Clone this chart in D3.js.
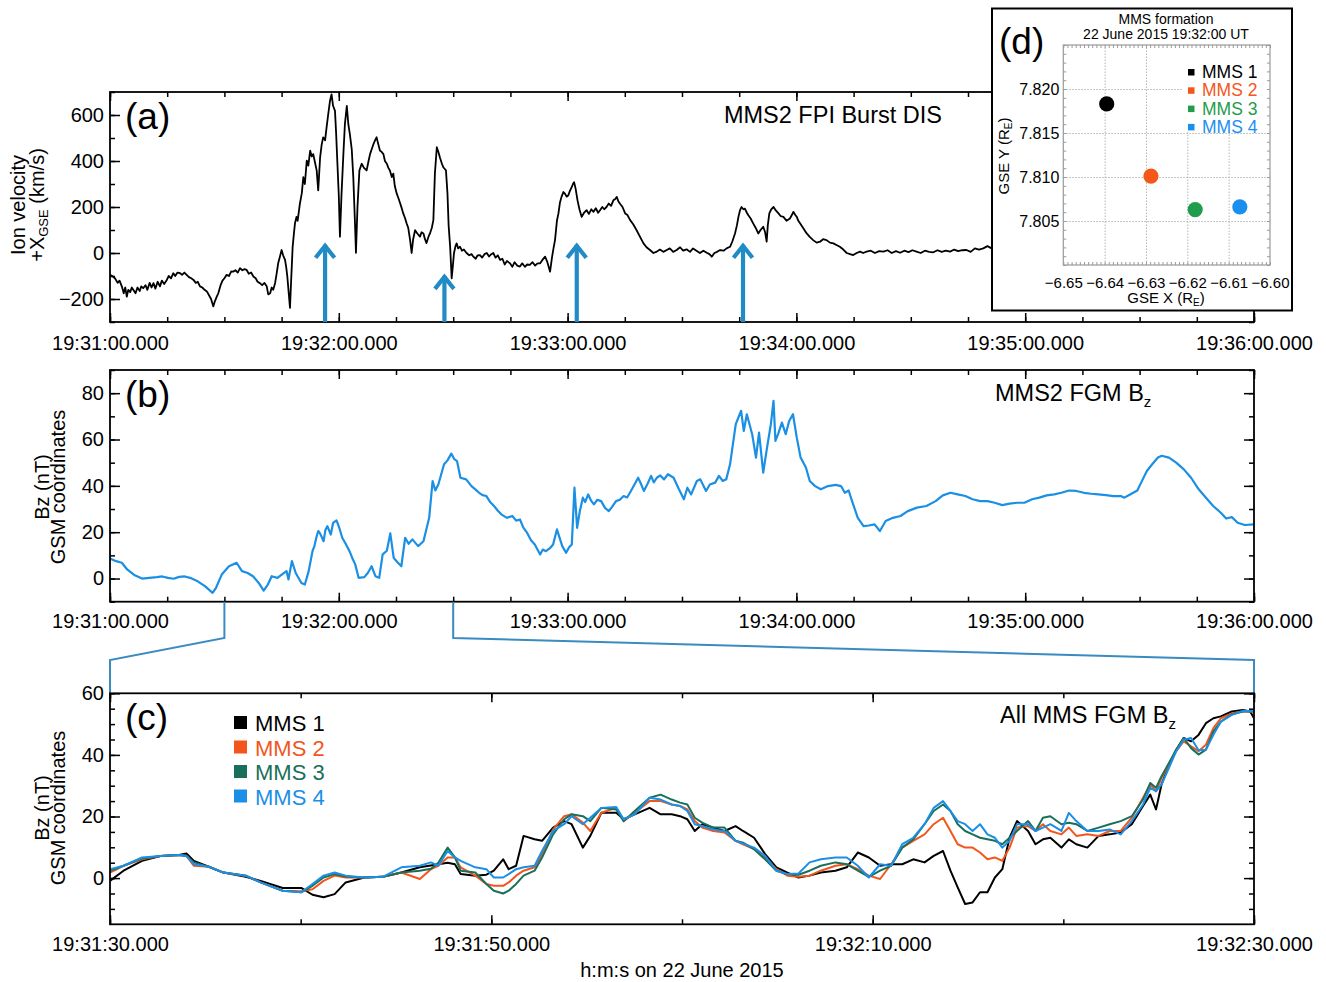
<!DOCTYPE html>
<html>
<head>
<meta charset="utf-8">
<script src="https://cdn.jsdelivr.net/npm/d3@7"></script>
<style>
  body { margin: 0; background: #fff; }
  svg { display: block; font-family: "Liberation Sans", Arial, Helvetica, sans-serif; }
</style>
</head>
<body>
<svg id="fig" width="1326" height="982"></svg>
<script>
// ---------------- data ----------------
// times are seconds after 19:31:00 UT (panels a, b) or after 19:31:30 UT (panel c)
var ionVel = [[0,-95],[0.6,-100],[1.3,-110],[2.0,-130],[2.5,-120],[3.1,-145],[3.6,-175],[4.0,-150],[4.4,-190],[4.8,-160],
  [5.3,-170],[5.7,-150],[6.1,-160],[6.7,-175],[7.2,-150],[7.8,-165],[8.2,-145],[8.7,-153],[9.3,-140],[9.8,-160],
  [10.4,-130],[10.9,-150],[11.4,-131],[11.9,-155],[12.5,-125],[13.1,-145],[13.6,-120],[14.2,-135],[14.9,-117],[15.4,-100],
  [16.0,-110],[16.6,-88],[17.1,-100],[17.7,-85],[18.4,-88],[18.9,-95],[19.5,-85],[20.1,-95],[20.7,-105],[21.3,-110],
  [21.9,-117],[22.5,-130],[23.0,-125],[23.6,-145],[24.2,-150],[24.8,-160],[25.4,-167],[26.0,-185],[26.5,-200],[27.1,-232],
  [27.5,-210],[28.0,-190],[28.4,-175],[29.0,-140],[29.5,-120],[30.0,-110],[30.6,-95],[31.2,-100],[31.8,-80],[32.3,-81],
  [32.9,-75],[33.5,-85],[34.1,-66],[34.7,-75],[35.3,-70],[35.8,-73],[36.4,-90],[37.0,-85],[37.6,-102],[38.2,-110],
  [38.7,-125],[39.3,-131],[39.9,-140],[40.5,-130],[41.1,-145],[41.5,-180],[42.0,-175],[42.4,-150],[42.8,-160],[43.3,-130],
  [43.7,-90],[44.1,-45],[44.5,-20],[45.0,13],[45.4,-10],[45.9,-30],[46.2,-60],[46.5,-102],[46.9,-180],[47.2,-239],
  [47.5,-120],[47.9,27],[48.2,80],[48.5,128],[48.9,157],[49.2,140],[49.8,215],[50.3,260],[50.7,330],[51.1,300],
  [51.6,402],[52.0,380],[52.5,445],[52.9,420],[53.3,430],[53.8,390],[54.2,359],[54.6,272],[55.1,416],[55.5,470],
  [55.9,503],[56.4,490],[56.8,546],[57.2,600],[57.7,662],[58.1,690],[58.5,640],[59.0,618],[59.3,520],[59.6,402],
  [60.0,250],[60.3,71],[60.7,250],[61.2,430],[61.6,560],[62.1,640],[62.5,560],[62.9,517],[63.4,450],[63.8,330],
  [64.2,150],[64.5,1],[64.9,200],[65.4,359],[66.0,388],[66.6,370],[67.3,359],[67.8,400],[68.2,430],[68.6,450],
  [69.1,474],[69.5,490],[69.9,503],[70.4,470],[70.8,445],[71.2,440],[71.7,430],[72.1,400],[72.6,388],[73.0,370],
  [73.4,359],[73.9,330],[74.3,345],[74.7,290],[75.2,258],[75.6,240],[76.1,215],[76.5,195],[76.9,172],[77.4,150],
  [77.8,128],[78.2,110],[78.7,56],[79.1,0],[79.5,60],[80.0,99],[80.6,85],[81.3,71],[81.7,90],[82.2,85],
  [82.6,60],[83.0,43],[83.5,70],[83.9,85],[84.4,110],[84.8,143],[85.2,345],[85.7,460],[86.1,440],[86.5,416],
  [87.0,390],[87.4,373],[87.8,365],[88.1,359],[88.5,258],[88.8,120],[89.2,27],[89.6,-110],[90.0,-40],[90.2,-1],
  [90.6,30],[90.9,42],[91.3,20],[91.8,27],[92.3,10],[92.8,15],[93.5,0],[94.2,-10],[94.8,-5],[95.3,-16],
  [95.9,-25],[96.4,-10],[97.0,-9],[97.6,-20],[98.2,-5],[98.8,0],[99.4,-15],[100.0,-5],[100.5,0],[101.1,-20],
  [101.7,-10],[102.3,-30],[102.9,-25],[103.5,-50],[104.1,-35],[104.9,-45],[105.5,-60],[106.1,-40],[106.8,-55],[107.5,-59],
  [108.1,-45],[108.8,-60],[109.4,-50],[110.1,-52],[110.8,-40],[111.5,-55],[112.1,-45],[112.8,-45],[113.4,-30],[114.1,-16],
  [114.7,-40],[115.4,-81],[115.9,-20],[116.3,20],[116.7,56],[117.2,140],[117.6,172],[118.0,220],[118.4,244],[118.9,265],
  [119.3,258],[119.8,245],[120.2,251],[120.6,270],[121.1,287],[121.4,300],[121.7,308],[122.1,280],[122.6,229],[123.1,190],
  [123.7,157],[124.3,175],[125.0,186],[125.6,170],[126.2,190],[126.8,179],[127.4,195],[128.0,175],[128.5,186],[129.1,200],
  [129.6,190],[130.2,200],[130.8,215],[131.4,205],[132.0,229],[132.5,235],[132.9,244],[133.3,225],[133.7,215],[134.4,200],
  [135.1,172],[135.7,165],[136.4,143],[137.2,125],[138.1,99],[139.0,70],[139.9,42],[140.7,25],[141.6,13],[142.5,0],
  [143.4,6],[144.2,15],[145.1,5],[146.0,13],[146.8,20],[147.7,5],[148.6,13],[149.5,25],[150.3,10],[151.2,16],
  [152.1,5],[152.9,20],[153.8,10],[154.7,0],[155.6,10],[156.5,1],[157.2,-5],[157.8,-16],[158.5,0],[159.2,5],
  [160.0,13],[160.9,10],[161.7,20],[162.6,27],[163.2,50],[163.9,85],[164.4,120],[164.8,157],[165.2,185],[165.6,200],
  [166.1,190],[166.5,193],[167.0,175],[167.4,164],[168.0,150],[168.7,128],[169.3,110],[170.0,85],[170.6,100],[171.3,114],
  [171.8,90],[172.2,49],[172.5,120],[172.9,172],[173.4,190],[174.0,200],[174.6,185],[175.3,172],[175.9,160],[176.6,157],
  [177.4,140],[178.3,150],[178.8,165],[179.2,179],[179.7,165],[180.1,157],[180.5,140],[181.0,128],[181.9,105],[182.7,85],
  [183.5,70],[184.4,56],[185.3,45],[186.2,49],[187.0,60],[187.9,56],[188.8,45],[189.7,42],[190.5,35],[191.4,27],
  [192.3,15],[193.2,0],[194.1,-5],[194.9,-9],[195.8,0],[196.7,6],[197.5,0],[198.4,6],[199.5,10],[200.6,0],
  [201.7,8],[202.8,6],[203.9,12],[205.0,0],[206.1,8],[207.2,1],[208.3,10],[209.4,4],[210.4,12],[211.5,6],
  [212.6,0],[213.7,10],[214.8,5],[215.9,3],[217.0,12],[218.1,5],[219.2,10],[220.3,6],[221.4,15],[222.4,8],
  [223.5,12],[224.6,13],[225.7,5],[226.8,20],[227.9,15],[229.0,20],[230.1,30],[231.2,20],[233,25],[240,20],
  [250,15],[260,20],[270,18],[280,22],[290,15],[300,20]];

var bzMms2 = [[0,8.6],[1.6,7.5],[3.1,6.8],[4.5,3.9],[6.5,1.4],[8.4,0],[10.3,0.3],[12.3,0.6],[13.7,0.9],[15.2,0.3],
  [16.7,-0.1],[18.1,0.7],[19.6,0.9],[21.0,0.3],[23.0,-1.2],[24.9,-3.3],[26.9,-6.2],[27.8,-4],[29.3,1.7],[31.2,5.3],
  [33.2,6.8],[34.6,3.2],[36.1,2.4],[37.5,1.0],[39.0,-1.9],[40.3,-5.2],[41.4,-2.6],[42.4,1],[43.9,0.3],[45.3,2],
  [46.3,3.2],[46.8,-0.4],[47.7,7.5],[48.7,2.4],[50.2,-1.9],[51.1,-2.6],[52.1,3.2],[53.1,11.8],[53.6,14],[54.1,17.6],
  [54.6,20.5],[55.0,19.7],[55.5,18],[56.0,16.1],[56.5,21],[57.0,22.6],[57.9,19],[58.5,24],[59.4,25.1],[60.1,22],
  [60.9,17.6],[61.8,15],[62.8,11.8],[63.5,9],[64.3,6.1],[65.2,0.3],[66.7,0.6],[67.6,2.4],[68.6,5.3],[69.6,1],
  [70.6,0.3],[71.5,10.4],[72.6,12],[73.5,19.5],[74.4,8.9],[75.4,7],[76.4,5.3],[77.4,17.6],[78.3,15],[79.3,16.9],
  [80.8,14],[82.2,16.1],[83.7,26.2],[84.6,42.1],[85.3,38],[86.1,40.6],[87.6,49.3],[88.5,51],[89.5,53.9],[90.3,51.5],
  [91.0,50.7],[91.9,43.5],[93.4,42.8],[94.8,39.9],[95.8,38.5],[96.8,37],[97.7,36],[98.7,35.6],[99.7,33],[100.7,31.3],
  [101.6,29.5],[102.6,27.7],[104.1,26.2],[105.5,27],[106.5,25],[107.5,25.5],[108.4,22],[109.4,19.7],[110.4,16.5],[111.4,14.7],
  [112.8,10.4],[113.5,12.5],[114.3,11.8],[115.3,13],[116.2,14.7],[117.2,21.2],[118.6,14],[119.6,11.1],[120.4,13.5],[121.1,14.7],
  [121.8,39.2],[122.5,21.9],[123.2,29],[124.0,34.9],[124.6,33],[125.4,36.3],[126.2,33.5],[126.9,32],[127.8,34],[128.8,33.4],
  [129.8,30.5],[130.8,29.1],[131.7,31],[132.7,33.4],[133.7,34],[134.7,35.6],[135.6,35],[136.6,37.8],[137.5,40.5],[138.5,43.5],
  [139.2,41],[140.0,37.8],[141.0,41],[141.9,44.3],[142.6,41.5],[143.4,43.5],[144.3,44.5],[145.3,42.8],[146.3,45],[147.8,43.5],
  [149.2,38.5],[150.5,34.2],[151.4,39.2],[152.4,36.3],[153.9,42.1],[154.8,42.8],[156.3,37.8],[157.3,40.6],[158.7,41.4],[159.7,44.3],
  [160.7,42.1],[161.6,42.8],[162.6,49.3],[164.1,66.6],[165.5,72.4],[166.2,63.7],[167.0,70.9],[168.4,62.3],[169.4,52.2],[170.2,63],
  [171.3,45.7],[172.3,56.5],[173.3,66.6],[174.0,76.7],[174.5,59.4],[175.2,62.3],[176.2,67.3],[177.2,62.3],[178.1,68],[179.1,70.9],
  [180.1,60.8],[181.1,52.2],[182.5,47.9],[183.5,42.1],[184.9,39.9],[186.4,38.5],[188.3,39.9],[190.3,40.4],[191.7,39.9],[192.7,37],
  [193.7,38],[194.6,33.4],[196.1,26.2],[197.6,22.6],[199.0,22.9],[200.5,23.4],[201.9,20.5],[203.4,24.8],[205.3,26.2],[207.3,27],
  [209.2,29.1],[211.6,30.6],[214.1,31.3],[216.5,33.4],[218.4,35.9],[220.4,37],[222.3,36.3],[224.3,35.6],[226.2,34.2],[228.2,33.4],
  [230.1,33.4],[232.0,32.7],[234.0,31.7],[235.9,32.3],[237.9,32.7],[239.8,32.7],[241.8,34.2],[243.7,34.9],[245.6,35.9],[247.6,36.3],
  [249.5,37],[251.5,38],[253.4,37.8],[255.4,37],[257.3,36.6],[259.2,36.3],[261.2,36],[263.1,35.6],[265.1,35.6],[266.0,34.9],
  [267.5,36.3],[269.4,38],[270.4,41.4],[271.9,46.4],[273.3,49.3],[274.8,52.2],[275.8,53],[277.7,52.2],[279.6,50],[281.6,47.1],
  [283.5,43.5],[285.5,38.5],[287.4,34.9],[289.3,31.3],[291.3,28.4],[292.7,25.9],[294.2,26.5],[295.7,24.1],[297.6,23.1],[300,23.4]];

var bzZoomMms1 = [[0,-0.9],[0.71,2.4],[1.68,5.6],[2.65,7.2],[3.62,7.5],[4.01,8.0],[4.40,5.6],[5.18,3.7],[5.95,1.8],[7.12,0.4],
  [7.90,-0.9],[9.06,-3.2],[10.03,-3.2],[10.62,-5.4],[11.20,-6.2],[11.78,-5.2],[12.36,-1.4],[13.34,0.2],[14.31,0.4],[15.28,1.8],
  [16.25,3.5],[17.22,4.5],[17.71,5.0],[18.09,4.5],[18.39,1.3],[19.16,0.8],[19.74,1.1],[20.13,2.4],[20.62,6.1],[20.91,2.9],
  [21.30,4.0],[21.69,13.7],[22.27,12.6],[22.66,12.1],[23.24,16.4],[23.82,18.5],[24.21,17.5],[24.80,9.9],[25.19,13.7],[25.77,21.2],
  [26.55,21.2],[26.94,19.1],[27.52,20.7],[28.30,22.8],[28.88,20.7],[29.46,20.7],[29.90,20.1],[30.28,19.1],[30.67,15.3],[31.06,17.5],
  [31.64,16.4],[32.23,15.3],[32.81,16.9],[33.20,15.3],[33.78,13.1],[34.36,7.8],[34.95,3.5],[35.53,1.8],[36.11,0.2],[36.69,0.8],
  [37.28,1.8],[38.05,2.4],[38.64,3.5],[39.22,8.3],[39.80,6.7],[40.39,4.0],[40.97,4.5],[41.55,4.5],[42.13,6.1],[42.72,5.1],
  [43.20,7.2],[43.69,8.8],[44.08,2.4],[44.46,-3.0],[44.85,-8.4],[45.24,-7.9],[45.63,-4.6],[46.02,-4.6],[46.41,0.2],[46.80,2.9],
  [47.18,13.1],[47.57,18.5],[48.15,15.3],[48.54,11.0],[48.93,12.6],[49.32,13.1],[49.90,9.9],[50.29,12.6],[50.68,11.0],[51.26,9.9],
  [51.85,13.7],[52.43,14.2],[53.01,14.8],[53.59,17.5],[54.18,23.4],[54.56,27.1],[54.86,22.3],[55.15,30.4],[55.54,36.8],[55.92,41.7],
  [56.31,45.5],[56.70,44.4],[57.09,46.5],[57.48,50.3],[57.87,51.9],[58.26,52.5],[58.84,54.1],[59.42,54.6],[59.80,54.1],[60,51.9]];

var bzZoomMms2 = [[0,1.8],[0.71,4.0],[1.68,6.1],[2.65,7.2],[3.62,7.5],[4.01,7.2],[4.40,4.0],[5.18,3.7],[5.95,1.8],[7.12,0.8],
  [7.90,-1.4],[9.06,-4.1],[10.03,-4.3],[10.62,-3.6],[11.20,-0.9],[11.78,0.8],[12.36,0.2],[13.34,0.2],[14.31,0.4],[15.28,1.8],
  [16.25,-0.3],[16.83,2.9],[17.22,4.0],[17.71,6.7],[18.09,6.7],[18.39,3.5],[19.16,0.8],[19.74,-1.9],[20.13,-2.5],[20.62,-2.5],
  [20.91,-1.4],[21.30,0.8],[21.69,2.4],[22.27,3.5],[22.66,7.8],[23.24,15.8],[23.82,20.1],[24.21,20.7],[24.80,18.0],[25.19,15.3],
  [25.77,21.2],[26.55,22.8],[26.94,18.5],[27.52,21.2],[28.30,25.0],[28.88,25.0],[29.46,23.9],[29.90,23.4],[30.28,22.3],[30.67,18.5],
  [31.06,16.4],[31.64,15.3],[32.23,14.8],[32.81,12.1],[33.20,11.0],[33.78,9.4],[34.36,6.7],[34.95,2.9],[35.53,0.8],[36.11,0.4],
  [36.69,0.8],[37.28,2.4],[38.05,4.0],[38.64,4.5],[39.22,2.9],[39.80,0.8],[40.39,-0.3],[40.97,4.5],[41.55,9.9],[42.13,12.1],
  [42.72,14.2],[43.20,17.5],[43.69,19.6],[44.08,15.3],[44.46,11.0],[44.85,9.9],[45.24,9.9],[45.63,8.3],[46.02,6.1],[46.41,6.7],
  [46.80,5.6],[47.18,9.9],[47.57,16.4],[48.15,16.9],[48.54,15.3],[48.93,17.5],[49.32,15.3],[49.90,14.2],[50.29,16.4],[50.68,13.7],
  [51.26,14.2],[51.85,13.7],[52.43,15.3],[53.01,15.3],[53.59,19.6],[54.18,26.1],[54.56,30.4],[54.86,28.2],[55.15,32.5],[55.54,36.8],
  [55.92,41.2],[56.31,44.4],[56.70,42.8],[57.09,41.2],[57.48,43.3],[57.87,48.7],[58.26,51.9],[58.84,53.5],[59.42,54.1],[60,54.1]];

var bzZoomMms3 = [[0,2.4],[0.71,4.0],[1.68,6.4],[2.65,7.2],[3.62,7.5],[4.01,7.2],[4.40,5.1],[5.18,3.7],[5.95,1.8],[7.12,0.8],
  [7.90,-1.4],[9.06,-4.1],[10.03,-4.6],[10.62,-2.5],[11.20,0.2],[11.78,1.3],[12.36,0.5],[13.34,0.2],[14.31,0.4],[15.28,1.8],
  [16.25,2.4],[16.83,3.0],[17.22,5.0],[17.71,9.9],[18.09,6.7],[18.39,2.4],[19.16,1.8],[19.74,-1.9],[20.13,-4.1],[20.62,-5.0],
  [20.91,-4.1],[21.30,-1.9],[21.69,0.8],[22.27,2.4],[22.66,6.7],[23.24,14.2],[23.82,19.1],[24.21,20.7],[24.80,20.1],[25.19,18.5],
  [25.77,22.8],[26.55,22.3],[26.94,18.5],[27.52,21.8],[28.30,26.1],[28.88,27.1],[29.46,25.5],[29.90,24.5],[30.28,23.9],[30.67,19.6],
  [31.06,18.0],[31.64,16.4],[32.23,16.4],[32.81,12.1],[33.20,11.5],[33.78,9.4],[34.36,6.1],[34.95,2.4],[35.53,1.3],[36.11,1.1],
  [36.69,2.4],[37.28,4.0],[38.05,5.1],[38.64,4.5],[39.22,2.4],[39.80,0.4],[40.39,2.4],[40.97,4.0],[41.55,9.9],[42.13,12.6],
  [42.72,17.5],[43.20,21.8],[43.69,23.9],[44.08,21.8],[44.46,17.5],[44.85,15.3],[45.24,14.2],[45.63,13.1],[46.02,12.6],[46.41,12.1],
  [46.80,11.0],[47.18,13.1],[47.57,15.3],[48.15,18.5],[48.54,15.3],[48.93,19.6],[49.32,20.1],[49.90,17.5],[50.29,18.0],[50.68,17.5],
  [51.26,15.3],[51.85,16.4],[52.43,17.5],[53.01,18.5],[53.59,20.1],[54.18,25.5],[54.56,30.9],[54.86,29.3],[55.15,33.1],[55.54,37.4],
  [55.92,41.7],[56.31,45.5],[56.70,42.2],[57.09,40.1],[57.48,41.7],[57.87,47.6],[58.26,50.8],[58.84,53.2],[59.42,54.1],[60,54.1]];

var bzZoomMms4 = [[0,2.9],[0.71,4.0],[1.68,6.7],[2.65,7.2],[3.62,7.5],[4.01,7.2],[4.40,4.5],[5.18,3.7],[5.95,1.8],[7.12,0.8],
  [7.90,-1.4],[9.06,-4.1],[10.03,-4.6],[10.62,-1.9],[11.20,0.8],[11.78,1.8],[12.36,0.8],[13.34,0.2],[14.31,0.4],[15.28,3.5],
  [16.25,4.0],[16.83,5.1],[17.22,4.0],[17.71,8.8],[18.09,6.7],[18.39,5.6],[19.16,3.5],[19.74,2.9],[20.13,0.2],[20.62,0.2],
  [20.91,1.3],[21.30,2.9],[21.69,3.5],[22.27,4.0],[22.66,8.8],[23.24,15.3],[23.82,17.5],[24.21,20.1],[24.80,17.5],[25.19,19.6],
  [25.77,22.8],[26.55,23.1],[26.94,19.1],[27.52,20.7],[28.30,26.1],[28.88,25.5],[29.46,23.9],[29.90,23.4],[30.28,21.8],[30.67,17.5],
  [31.06,16.9],[31.64,15.8],[32.23,15.3],[32.81,12.1],[33.20,11.2],[33.78,9.9],[34.36,7.2],[34.95,2.4],[35.53,1.3],[36.11,1.5],
  [36.69,5.1],[37.28,6.1],[38.05,6.7],[38.64,6.7],[39.22,4.0],[39.80,0.2],[40.39,4.5],[40.97,4.0],[41.55,11.0],[42.13,13.1],
  [42.72,17.5],[43.20,22.8],[43.69,25.0],[44.08,21.8],[44.46,18.5],[44.85,17.5],[45.24,15.3],[45.63,17.5],[46.02,14.2],[46.41,13.1],
  [46.80,9.9],[47.18,12.1],[47.57,17.5],[48.15,17.5],[48.54,15.3],[48.93,16.4],[49.32,17.5],[49.90,15.3],[50.29,21.2],[50.68,18.5],
  [51.26,15.3],[51.85,15.3],[52.43,15.8],[53.01,14.2],[53.59,18.5],[54.18,23.9],[54.56,29.3],[54.86,28.2],[55.15,30.4],[55.54,35.8],
  [55.92,41.2],[56.31,44.9],[56.70,45.5],[57.09,41.5],[57.48,41.7],[57.87,46.5],[58.26,50.8],[58.84,53.0],[59.42,54.3],[60,54.1]];

var arrowTimes = [56.4, 87.7, 122.4, 166.0];   // s after 19:31:00
var arrowTips = [40, -95, 40, 40];             // km/s

var scNames = ["MMS 1", "MMS 2", "MMS 3", "MMS 4"];
var colorsC = ["#000000", "#f2561d", "#19705a", "#1b8fe6"];
var colorsD = ["#000000", "#f5561a", "#1f9c4c", "#1b8ff0"];
var formX = [-6.6395, -6.6288, -6.6181, -6.6073];   // GSE X (RE)
var formY = [7.8183, 7.8101, 7.8063, 7.8066];        // GSE Y (RE)

var velTicks = [-200, 0, 200, 400, 600];
var bzTicks = [0, 20, 40, 60, 80];
var zoomBzTicks = [0, 20, 40, 60];
var formXTicks = [-6.65, -6.64, -6.63, -6.62, -6.61, -6.60];
var formYTicks = [7.805, 7.810, 7.815, 7.820];

// ---------------- layout ----------------
var svg = d3.select("#fig");
var T0 = Date.UTC(2015, 5, 22, 19, 31, 0);
var TZ = Date.UTC(2015, 5, 22, 19, 31, 30);
var fmt = d3.utcFormat("%H:%M:%S.%L");
var FONT = "\"Liberation Sans\", Arial, Helvetica, sans-serif";
var LEFT = 110, RIGHT = 1254;

function sec(base) { return function (s) { return new Date(base + s * 1000); }; }
var atT0 = sec(T0), atTZ = sec(TZ);

var xa = d3.scaleUtc().domain([atT0(0), atT0(300)]).range([LEFT, RIGHT]);
var ya = d3.scaleLinear().domain([-300, 700]).range([322, 92]);
var yb = d3.scaleLinear().domain([-10, 90]).range([601.7, 370]);
var xc = d3.scaleUtc().domain([atTZ(0), atTZ(60)]).range([LEFT, RIGHT]);
var yc = d3.scaleLinear().domain([-15, 60]).range([924.3, 693.3]);

function styleAxis(g, size) {
  g.select(".domain").remove();
  g.selectAll("line").attr("stroke", "#000").attr("stroke-width", 1.5);
  g.selectAll("text").attr("font-family", FONT).attr("font-size", size).attr("fill", "#000");
  g.attr("font-family", null).attr("font-size", null);
}

function drawFrame(x, y, xMajor, xMinor, yMajor, yMinor, yFmt, xPad) {
  var g = svg.append("g");
  var x0 = x.range()[0], x1 = x.range()[1];
  var yBot = y.range()[0], yTop = y.range()[1];
  // x minor / major ticks, bottom and top
  g.append("g").attr("transform", "translate(0," + yBot + ")")
    .call(d3.axisBottom(x).tickValues(xMinor).tickSize(-5).tickFormat("")).call(styleAxis, 20);
  g.append("g").attr("transform", "translate(0," + yTop + ")")
    .call(d3.axisTop(x).tickValues(xMinor).tickSize(-5).tickFormat("")).call(styleAxis, 20);
  g.append("g").attr("transform", "translate(0," + yTop + ")")
    .call(d3.axisTop(x).tickValues(xMajor).tickSize(-9).tickFormat("")).call(styleAxis, 20);
  g.append("g").attr("transform", "translate(0," + yBot + ")")
    .call(d3.axisBottom(x).tickValues(xMajor).tickSize(-9).tickPadding(xPad).tickFormat(fmt)).call(styleAxis, 20);
  // y ticks, left and right
  g.append("g").attr("transform", "translate(" + x0 + ",0)")
    .call(d3.axisLeft(y).tickValues(yMinor).tickSize(-5).tickFormat("")).call(styleAxis, 20);
  g.append("g").attr("transform", "translate(" + x1 + ",0)")
    .call(d3.axisRight(y).tickValues(yMinor).tickSize(-5).tickFormat("")).call(styleAxis, 20);
  g.append("g").attr("transform", "translate(" + x1 + ",0)")
    .call(d3.axisRight(y).tickValues(yMajor).tickSize(-10).tickFormat("")).call(styleAxis, 20);
  g.append("g").attr("transform", "translate(" + x0 + ",0)")
    .call(d3.axisLeft(y).tickValues(yMajor).tickSize(-10).tickPadding(6).tickFormat(yFmt)).call(styleAxis, 20);
  g.append("rect").attr("x", x0).attr("y", yTop).attr("width", x1 - x0).attr("height", yBot - yTop)
    .attr("fill", "none").attr("stroke", "#000").attr("stroke-width", 1.8);
  return g;
}

function clipFor(id, x, y) {
  svg.append("clipPath").attr("id", id).append("rect")
    .attr("x", x.range()[0]).attr("y", y.range()[1])
    .attr("width", x.range()[1] - x.range()[0]).attr("height", y.range()[0] - y.range()[1]);
  return "url(#" + id + ")";
}

function yLabel(cx, cy, lines) {
  var t = svg.append("g").attr("transform", "translate(0," + cy + ")");
  lines.forEach(function (ln) {
    var txt = t.append("text").attr("transform", "translate(" + ln.x + ",0) rotate(-90)")
      .attr("text-anchor", "middle").attr("font-size", 20).attr("font-family", FONT);
    ln.parts.forEach(function (p) {
      var s = txt.append("tspan").text(p[0]);
      if (p[1]) s.attr("font-size", 13).attr("dy", p[1]);
      if (p[2]) s.attr("dy", p[2]);
    });
  });
}

// ---------------- panel (a) ----------------
var minuteTicks = d3.range(0, 301, 60).map(atT0);
var quarterTicks = d3.range(0, 301, 15).map(atT0);
var velMinor = d3.range(-300, 701, 100);

var clipA = clipFor("clipA", xa, ya);
svg.append("path").datum(ionVel)
  .attr("clip-path", clipA)
  .attr("fill", "none").attr("stroke", "#000").attr("stroke-width", 1.8).attr("stroke-linejoin", "round")
  .attr("d", d3.line().x(function (d) { return xa(atT0(d[0])); }).y(function (d) { return ya(d[1]); }));

drawFrame(xa, ya, minuteTicks, quarterTicks, velTicks, velMinor, d3.format("d"), 13.8);

// arrows
var arrowColor = "#218bc6";
arrowTimes.forEach(function (t, i) {
  var ax = xa(atT0(t)), tip = ya(arrowTips[i]);
  var g = svg.append("g").attr("stroke", arrowColor).attr("stroke-width", 4.2).attr("fill", "none");
  g.append("line").attr("x1", ax).attr("x2", ax).attr("y1", tip + 1).attr("y2", ya.range()[0]);
  g.append("polyline").attr("points", (ax - 9.5) + "," + (tip + 14) + " " + ax + "," + (tip + 2) + " " + (ax + 9.5) + "," + (tip + 14))
    .attr("stroke-linejoin", "miter");
});

svg.append("text").attr("x", 125).attr("y", 129).attr("font-size", 37).attr("font-family", FONT).text("(a)");
svg.append("text").attr("x", 942).attr("y", 123).attr("text-anchor", "end").attr("font-size", 23.5)
  .attr("font-family", FONT).text("MMS2 FPI Burst DIS");
yLabel(0, 205, [
  { x: 25, parts: [["Ion velocity"]] },
  { x: 44, parts: [["+X"], ["GSE", 4], [" (km/s)", null, -4]] }
]);

// ---------------- panel (b) ----------------
var bzMinor = d3.range(-10, 91, 10);
var clipB = clipFor("clipB", xa, yb);
svg.append("path").datum(bzMms2)
  .attr("clip-path", clipB)
  .attr("fill", "none").attr("stroke", "#1a8fe3").attr("stroke-width", 2.2).attr("stroke-linejoin", "round")
  .attr("d", d3.line().x(function (d) { return xa(atT0(d[0])); }).y(function (d) { return yb(d[1]); }));

drawFrame(xa, yb, minuteTicks, quarterTicks, bzTicks, bzMinor, d3.format("d"), 12.2);

svg.append("text").attr("x", 125).attr("y", 407).attr("font-size", 37).attr("font-family", FONT).text("(b)");
var tb = svg.append("text").attr("x", 995).attr("y", 401).attr("font-size", 23.5).attr("font-family", FONT);
tb.append("tspan").text("MMS2 FGM B");
tb.append("tspan").attr("font-size", 15).attr("dy", 6).text("z");
yLabel(0, 487, [
  { x: 49, parts: [["Bz (nT)"]] },
  { x: 65, parts: [["GSM coordinates"]] }
]);

// ---------------- zoom connectors ----------------
var connColor = "#3a8bbf";
var zx0 = xa(atT0(30)), zx1 = xa(atT0(90));
[[zx0, LEFT], [zx1, RIGHT]].forEach(function (p) {
  svg.append("polyline")
    .attr("points", p[0] + "," + yb.range()[0] + " " + p[0] + "," + 638 + " " + p[1] + "," + 660 + " " + p[1] + "," + yc.range()[1])
    .attr("fill", "none").attr("stroke", connColor).attr("stroke-width", 2);
});

// ---------------- panel (c) ----------------
var zMajor = d3.range(0, 61, 20).map(atTZ);
var zMinor = d3.range(0, 61, 10).map(atTZ);
var zbMinor = d3.range(-10, 61, 5);
var clipC = clipFor("clipC", xc, yc);
var zoomSeries = [bzZoomMms1, bzZoomMms2, bzZoomMms3, bzZoomMms4];
var lineC = d3.line().x(function (d) { return xc(atTZ(d[0])); }).y(function (d) { return yc(d[1]); });
zoomSeries.forEach(function (s, i) {
  svg.append("path").datum(s).attr("clip-path", clipC)
    .attr("fill", "none").attr("stroke", colorsC[i]).attr("stroke-width", 2).attr("stroke-linejoin", "round")
    .attr("d", lineC);
});

drawFrame(xc, yc, zMajor, zMinor, zoomBzTicks, zbMinor, d3.format("d"), 12.5);

svg.append("text").attr("x", 125).attr("y", 730).attr("font-size", 37).attr("font-family", FONT).text("(c)");
var tc = svg.append("text").attr("x", 1000).attr("y", 723).attr("font-size", 23.5).attr("font-family", FONT);
tc.append("tspan").text("All MMS FGM B");
tc.append("tspan").attr("font-size", 15).attr("dy", 6).text("z");
yLabel(0, 808, [
  { x: 49, parts: [["Bz (nT)"]] },
  { x: 65, parts: [["GSM coordinates"]] }
]);

var legC = svg.append("g").attr("font-family", FONT).attr("font-size", 22);
scNames.forEach(function (n, i) {
  var cy = 723 + i * 24.5;
  legC.append("rect").attr("x", 234).attr("y", cy - 7).attr("width", 13).attr("height", 13).attr("fill", colorsC[i]);
  legC.append("text").attr("x", 255).attr("y", cy + 8).attr("fill", colorsC[i]).text(n);
});

svg.append("text").attr("x", (LEFT + RIGHT) / 2 - 0).attr("y", 977).attr("text-anchor", "middle")
  .attr("font-size", 20).attr("font-family", FONT).text("h:m:s on 22 June 2015");

// ---------------- panel (d) inset ----------------
var inset = svg.append("g");
inset.append("rect").attr("x", 992).attr("y", 8.5).attr("width", 300).attr("height", 302)
  .attr("fill", "#fff").attr("stroke", "#000").attr("stroke-width", 2);

var xd = d3.scaleLinear().domain([-6.65, -6.60]).range([1063.3, 1270]);
var yd = d3.scaleLinear().domain([7.800, 7.825]).range([265, 45]);
var gridStyle = function (g) {
  g.select(".domain").remove();
  g.selectAll("line").attr("stroke", "#b5b5b5").attr("stroke-width", 1).attr("stroke-dasharray", "1.5,1.5");
};
inset.append("g").attr("transform", "translate(0,265)")
  .call(d3.axisBottom(xd).tickValues(formXTicks.slice(1, 5)).tickSize(-(265 - 45)).tickFormat("")).call(gridStyle);
inset.append("g").attr("transform", "translate(1063.3,0)")
  .call(d3.axisLeft(yd).tickValues(formYTicks).tickSize(-(1270 - 1063.3)).tickFormat("")).call(gridStyle);

// legend box (white) over the grid
inset.append("rect").attr("x", 1183).attr("y", 46).attr("width", 86).attr("height", 86).attr("fill", "#fff");

// minor ticks on all sides
var minorStyle = function (g) {
  g.select(".domain").remove();
  g.selectAll("line").attr("stroke", "#9a9a9a").attr("stroke-width", 1);
};
inset.append("g").attr("transform", "translate(0,265)")
  .call(d3.axisBottom(xd).ticks(50).tickSize(-3).tickFormat("")).call(minorStyle);
inset.append("g").attr("transform", "translate(0,45)")
  .call(d3.axisTop(xd).ticks(50).tickSize(-3).tickFormat("")).call(minorStyle);
inset.append("g").attr("transform", "translate(1063.3,0)")
  .call(d3.axisLeft(yd).ticks(25).tickSize(-3).tickFormat("")).call(minorStyle);
inset.append("g").attr("transform", "translate(1270,0)")
  .call(d3.axisRight(yd).ticks(25).tickSize(-3).tickFormat("")).call(minorStyle);
inset.append("rect").attr("x", 1063.3).attr("y", 45).attr("width", 1270 - 1063.3).attr("height", 220)
  .attr("fill", "none").attr("stroke", "#9a9a9a").attr("stroke-width", 1.2);

// tick labels
inset.append("g").attr("transform", "translate(0,265)")
  .call(d3.axisBottom(xd).tickValues(formXTicks).tickSize(0).tickPadding(12).tickFormat(d3.format(".2f")))
  .call(function (g) {
    g.select(".domain").remove();
    g.selectAll("text").attr("font-family", FONT).attr("font-size", 15).attr("fill", "#000");
    g.attr("font-family", null).attr("font-size", null);
  });
inset.append("g").attr("transform", "translate(1063.3,0)")
  .call(d3.axisLeft(yd).tickValues(formYTicks).tickSize(0).tickPadding(4).tickFormat(d3.format(".3f")))
  .call(function (g) {
    g.select(".domain").remove();
    g.selectAll("text").attr("font-family", FONT).attr("font-size", 16).attr("fill", "#000");
    g.attr("font-family", null).attr("font-size", null);
  });

// spacecraft positions
inset.selectAll("circle.sc").data(formX).enter().append("circle").attr("class", "sc")
  .attr("cx", function (d) { return xd(d); })
  .attr("cy", function (d, i) { return yd(formY[i]); })
  .attr("r", 7.6)
  .attr("fill", function (d, i) { return colorsD[i]; });

// legend
scNames.forEach(function (n, i) {
  var by = 78 + i * 18.3;
  inset.append("rect").attr("x", 1188).attr("y", by - 9).attr("width", 6.5).attr("height", 6.5).attr("fill", colorsD[i]);
  inset.append("text").attr("x", 1202).attr("y", by).attr("font-size", 17.5).attr("font-family", FONT)
    .attr("fill", colorsD[i]).text(n);
});

// titles and labels
inset.append("text").attr("x", 1166).attr("y", 24).attr("text-anchor", "middle").attr("font-size", 14)
  .attr("font-family", FONT).text("MMS formation");
inset.append("text").attr("x", 1166).attr("y", 38.5).attr("text-anchor", "middle").attr("font-size", 14)
  .attr("font-family", FONT).text("22 June 2015 19:32:00 UT");
inset.append("text").attr("x", 999).attr("y", 54).attr("font-size", 37).attr("font-family", FONT).text("(d)");
var xlab = inset.append("text").attr("x", 1166).attr("y", 303).attr("text-anchor", "middle")
  .attr("font-size", 15).attr("font-family", FONT);
xlab.append("tspan").text("GSE X (R");
xlab.append("tspan").attr("font-size", 10).attr("dy", 3).text("E");
xlab.append("tspan").attr("dy", -3).text(")");
var ylab = inset.append("text").attr("transform", "translate(1009,156) rotate(-90)").attr("text-anchor", "middle")
  .attr("font-size", 15).attr("font-family", FONT);
ylab.append("tspan").text("GSE Y (R");
ylab.append("tspan").attr("font-size", 10).attr("dy", 3).text("E");
ylab.append("tspan").attr("dy", -3).text(")");
</script>
</body>
</html>
